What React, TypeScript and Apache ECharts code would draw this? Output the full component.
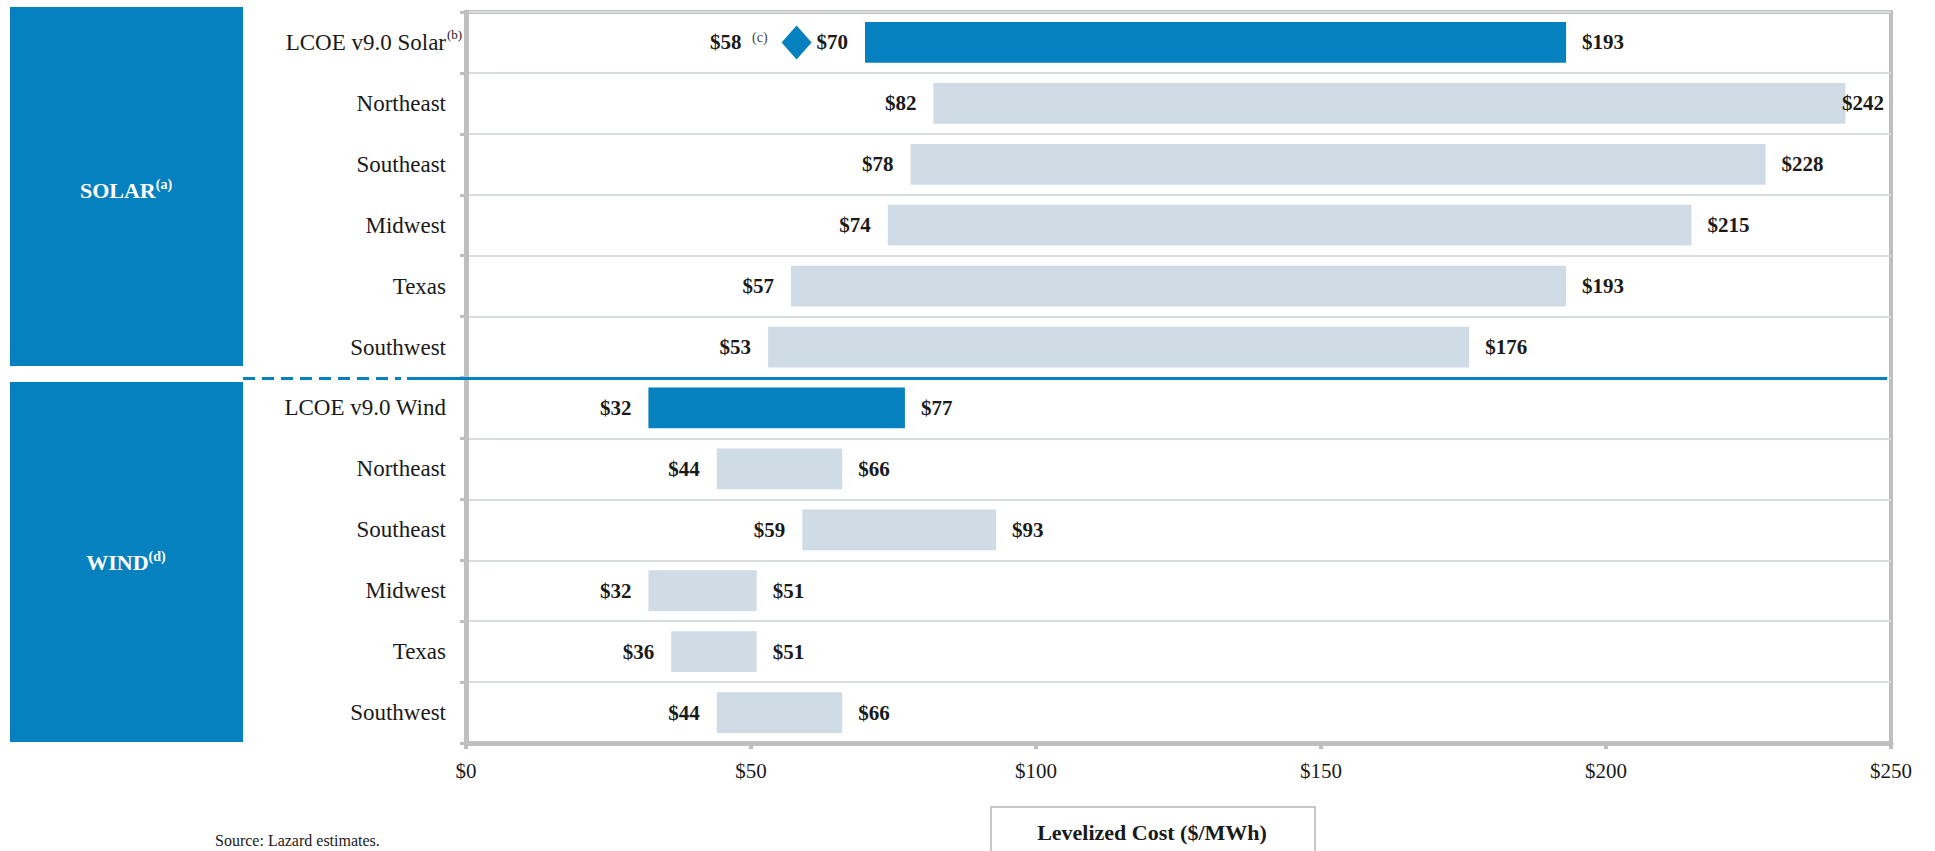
import React, { useEffect, useRef } from "react";
import * as echarts from "echarts";

// Levelized cost ranges ($/MWh) by region
const solarCategories = ["LCOE v9.0 Solar", "Northeast", "Southeast", "Midwest", "Texas", "Southwest"];
const solarLow = [70, 82, 78, 74, 57, 53];
const solarHigh = [193, 242, 228, 215, 193, 176];

const windCategories = ["LCOE v9.0 Wind", "Northeast", "Southeast", "Midwest", "Texas", "Southwest"];
const windLow = [32, 44, 59, 32, 36, 44];
const windHigh = [77, 66, 93, 51, 51, 66];

// Solar midpoint marker shown beside the LCOE bar
const solarMarkerValue = 58;
const solarMarkerNote = "(c)";

const categoryNotes: Record<string, string> = { "solar|LCOE v9.0 Solar": "(b)" };
const groupLabels = [
  { name: "SOLAR", note: "(a)" },
  { name: "WIND", note: "(d)" },
];
const xTicks = [0, 50, 100, 150, 200, 250];
const axisTitle = "Levelized Cost ($/MWh)";
const sourceNote = "Source: Lazard estimates.";

const DARK = "#0681BF";
const LIGHT = "#CFDCE6";
const GRID_GRAY = "#BFBFBF";
const ROW_LINE = "#D9DDDD";
const TEXT = "#1a1a1a";
const SERIF = "'Liberation Serif', 'DejaVu Serif', serif";

const rowKeys = [
  ...solarCategories.map((c) => "solar|" + c),
  ...windCategories.map((c) => "wind|" + c),
];
const rowData = [
  ...solarCategories.map((_, i) => [solarLow[i], solarHigh[i], i, i === 0 ? 1 : 0]),
  ...windCategories.map((_, i) => [windLow[i], windHigh[i], solarCategories.length + i, i === 0 ? 1 : 0]),
];

export default function App() {
  const ref = useRef<HTMLDivElement>(null);

  useEffect(() => {
    if (!ref.current) return;
    const chart = echarts.init(ref.current, undefined, { renderer: "svg" });

    const valueFont = `bold 21px ${SERIF}`;
    const NOTE_W = 17;

    const option: any = {
      animation: false,
      backgroundColor: "#ffffff",
      grid: {
        left: 466,
        right: 44,
        top: 12,
        bottom: 108,
        show: true,
        borderColor: GRID_GRAY,
        borderWidth: 4,
        backgroundColor: "transparent",
      },
      xAxis: {
        type: "value",
        min: xTicks[0],
        max: xTicks[xTicks.length - 1],
        interval: xTicks[1] - xTicks[0],
        axisLine: { show: true, lineStyle: { color: GRID_GRAY, width: 5 } },
        axisTick: { show: true, length: 6, lineStyle: { color: GRID_GRAY, width: 4 } },
        splitLine: { show: false },
        axisLabel: {
          formatter: (v: number) => "$" + v,
          fontFamily: SERIF,
          fontSize: 21,
          color: TEXT,
          margin: 17,
        },
      },
      yAxis: {
        type: "category",
        inverse: true,
        data: rowKeys,
        axisLine: { show: true, lineStyle: { color: GRID_GRAY, width: 5 } },
        axisTick: { show: true, length: 6, lineStyle: { color: GRID_GRAY, width: 3 } },
        splitLine: { show: true, lineStyle: { color: ROW_LINE, width: 2 } },
        axisLabel: {
          margin: 20 - NOTE_W,
          formatter: (key: string) => {
            const name = key.split("|")[1];
            const note = categoryNotes[key];
            return note ? `{m|${name}}{s|${note}}` : `{n|${name}}`;
          },
          rich: {
            n: { fontFamily: SERIF, fontSize: 23, color: TEXT, lineHeight: 28, padding: [0, NOTE_W, 0, 0] },
            m: { fontFamily: SERIF, fontSize: 23, color: TEXT, lineHeight: 28 },
            s: { fontFamily: SERIF, fontSize: 13, color: TEXT, verticalAlign: "top", lineHeight: 14, width: NOTE_W, align: "left" },
          },
        },
      },
      series: [
        {
          type: "custom",
          clip: false,
          encode: { x: [0, 1], y: 2 },
          data: rowData,
          renderItem: (params: any, api: any) => {
            const lo = api.value(0);
            const hi = api.value(1);
            const row = api.value(2);
            const featured = api.value(3) === 1;
            const p0 = api.coord([lo, row]);
            const p1 = api.coord([hi, row]);
            const band = api.size([0, 1])[1];
            const h = band * 0.67;
            const cs = params.coordSys;
            const right = cs.x + cs.width;

            const children: any[] = [
              {
                type: "rect",
                shape: { x: p0[0], y: p0[1] - h / 2, width: p1[0] - p0[0], height: h },
                style: { fill: featured ? DARK : LIGHT },
              },
              {
                type: "text",
                x: p0[0] - 17,
                y: p0[1],
                style: { text: "$" + lo, align: "right", verticalAlign: "middle", font: valueFont, fill: TEXT },
              },
            ];

            const hiText = "$" + hi;
            const hiWidth = hiText.length * 21 * 0.5;
            let hx = p1[0] + 16;
            let align = "left";
            if (hx + hiWidth > right - 5) {
              hx = right - 7;
              align = "right";
            }
            children.push({
              type: "text",
              x: hx,
              y: p1[1],
              style: { text: hiText, align, verticalAlign: "middle", font: valueFont, fill: TEXT },
            });

            // divider between the solar and wind groups
            if (row === solarCategories.length) {
              const yTop = Math.round(p0[1] - band / 2) + 0.5;
              children.push({
                type: "line",
                shape: { x1: 407, y1: yTop, x2: right - 4, y2: yTop },
                style: { stroke: DARK, lineWidth: 3 },
              });
              children.push({
                type: "line",
                shape: { x1: 243, y1: yTop, x2: 401, y2: yTop },
                style: { stroke: DARK, lineWidth: 3, lineDash: [12, 7] },
              });
            }
            return { type: "group", children };
          },
          z: 3,
        },
        {
          // diamond marker with its value and note
          type: "custom",
          clip: false,
          encode: { x: 0, y: 1 },
          data: [[solarMarkerValue, 0]],
          renderItem: (params: any, api: any) => {
            const v = api.value(0);
            const c = api.coord([v, api.value(1)]);
            const hw = 15;
            const hh = 17;
            return {
              type: "group",
              children: [
                {
                  type: "polygon",
                  shape: { points: [[c[0], c[1] - hh], [c[0] + hw, c[1]], [c[0], c[1] + hh], [c[0] - hw, c[1]]] },
                  style: { fill: DARK },
                },
                {
                  type: "text",
                  x: c[0] - hw - 14,
                  y: c[1] - 12,
                  style: { text: solarMarkerNote, align: "right", verticalAlign: "top", font: `14px ${SERIF}`, fill: "#444" },
                },
                {
                  type: "text",
                  x: c[0] - hw - 14 - 26,
                  y: c[1],
                  style: { text: "$" + v, align: "right", verticalAlign: "middle", font: valueFont, fill: TEXT },
                },
              ],
            };
          },
          z: 4,
        },
      ],
      graphic: [
        // group headers on the left
        { type: "rect", left: 10, top: 7, shape: { width: 233, height: 359 }, style: { fill: DARK } },
        { type: "rect", left: 10, top: 382, shape: { width: 233, height: 360 }, style: { fill: DARK } },
        {
          type: "text",
          x: 126,
          y: 190,
          style: {
            text: `{m|${groupLabels[0].name}}{s|${groupLabels[0].note}}`,
            align: "center",
            verticalAlign: "middle",
            rich: {
              m: { fontFamily: SERIF, fontSize: 22, fontWeight: "bold", fill: "#ffffff", lineHeight: 26 },
              s: { fontFamily: SERIF, fontSize: 14, fontWeight: "bold", fill: "#ffffff", verticalAlign: "top", lineHeight: 15 },
            },
          },
        },
        {
          type: "text",
          x: 126,
          y: 562,
          style: {
            text: `{m|${groupLabels[1].name}}{s|${groupLabels[1].note}}`,
            align: "center",
            verticalAlign: "middle",
            rich: {
              m: { fontFamily: SERIF, fontSize: 22, fontWeight: "bold", fill: "#ffffff", lineHeight: 26 },
              s: { fontFamily: SERIF, fontSize: 14, fontWeight: "bold", fill: "#ffffff", verticalAlign: "top", lineHeight: 15 },
            },
          },
        },
        // axis title box
        {
          type: "rect",
          left: 990,
          top: 806,
          shape: { width: 324, height: 60 },
          style: { fill: "#ffffff", stroke: "#C6C6C6", lineWidth: 2 },
        },
        {
          type: "text",
          x: 1152,
          y: 832,
          style: {
            text: axisTitle,
            align: "center",
            verticalAlign: "middle",
            font: `bold 22px ${SERIF}`,
            fill: TEXT,
          },
        },
        {
          type: "text",
          x: 215,
          y: 832,
          style: { text: sourceNote, align: "left", verticalAlign: "top", font: `16px ${SERIF}`, fill: TEXT },
        },
      ],
    };

    chart.setOption(option);
    return () => chart.dispose();
  }, []);

  return (
    <div
      ref={ref}
      style={{ position: "fixed", left: 0, top: 0, width: 1935, height: 851, background: "#fff" }}
    />
  );
}
